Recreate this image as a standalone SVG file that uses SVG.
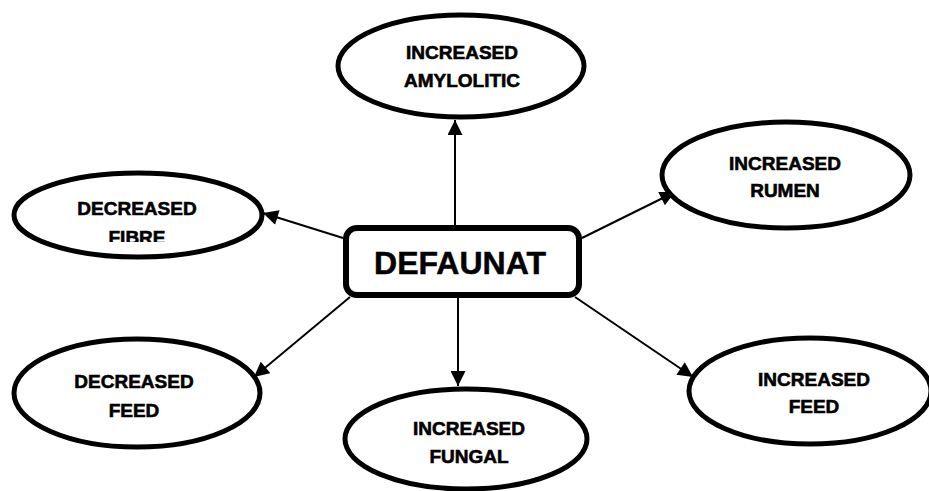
<svg xmlns="http://www.w3.org/2000/svg" width="929" height="491" viewBox="0 0 929 491">
<defs>
<style>
.ell{fill:#fff;stroke:#000;stroke-width:5}
.lbl{font-family:"Liberation Sans",Arial,sans-serif;font-weight:bold;font-size:19px;fill:#000;stroke:#000;stroke-width:0.6;text-anchor:middle}
.main{font-family:"Liberation Sans",Arial,sans-serif;font-weight:bold;font-size:32px;fill:#000;stroke:#000;stroke-width:0.5;text-anchor:middle}
.con{stroke:#000;stroke-width:2;fill:none;marker-end:url(#ah)}
</style>
<marker id="ah" viewBox="0 0 10 10" refX="10" refY="5" markerWidth="8" markerHeight="7.5" orient="auto" markerUnits="strokeWidth">
<path d="M0,0 L10,5 L0,10 z" fill="#000"/>
</marker>
<clipPath id="clipFibre"><rect x="0" y="0" width="300" height="242"/></clipPath>
</defs>
<rect width="929" height="491" fill="#fff"/>
<g id="connectors">
<line class="con" x1="455" y1="225" x2="455" y2="120"/>
<line class="con" x1="343" y1="238" x2="263" y2="213"/>
<line class="con" x1="582" y1="238" x2="675" y2="192"/>
<line class="con" x1="350" y1="297" x2="254" y2="377"/>
<line class="con" x1="458" y1="297" x2="458" y2="386"/>
<line class="con" x1="575" y1="297" x2="693" y2="377"/>
</g>
<g id="n-top">
<ellipse class="ell" cx="461" cy="66" rx="123" ry="51"/>
<text class="lbl" x="462" y="59">INCREASED</text>
<text class="lbl" x="462" y="87">AMYLOLITIC</text>
</g>
<g id="n-fibre">
<ellipse class="ell" cx="138" cy="215" rx="124" ry="42"/>
<text class="lbl" x="137" y="215">DECREASED</text>
<text class="lbl" x="137" y="244" clip-path="url(#clipFibre)">FIBRE</text>
</g>
<g id="n-rumen">
<ellipse class="ell" cx="786" cy="175" rx="124" ry="53"/>
<text class="lbl" x="785" y="170">INCREASED</text>
<text class="lbl" x="785" y="197">RUMEN</text>
</g>
<g id="n-center">
<rect x="346" y="228" width="233" height="67" rx="11" ry="11" fill="#fff" stroke="#000" stroke-width="6"/>
<text class="main" x="460" y="274">DEFAUNAT</text>
</g>
<g id="n-dfeed">
<ellipse class="ell" cx="137" cy="393" rx="123" ry="54"/>
<text class="lbl" x="134" y="388">DECREASED</text>
<text class="lbl" x="134" y="417">FEED</text>
</g>
<g id="n-fungal">
<ellipse class="ell" cx="466" cy="439" rx="121" ry="50"/>
<text class="lbl" x="469" y="435">INCREASED</text>
<text class="lbl" x="469" y="463">FUNGAL</text>
</g>
<g id="n-ifeed">
<ellipse class="ell" cx="810" cy="391" rx="121" ry="53"/>
<text class="lbl" x="814" y="386">INCREASED</text>
<text class="lbl" x="814" y="413">FEED</text>
</g>
</svg>
